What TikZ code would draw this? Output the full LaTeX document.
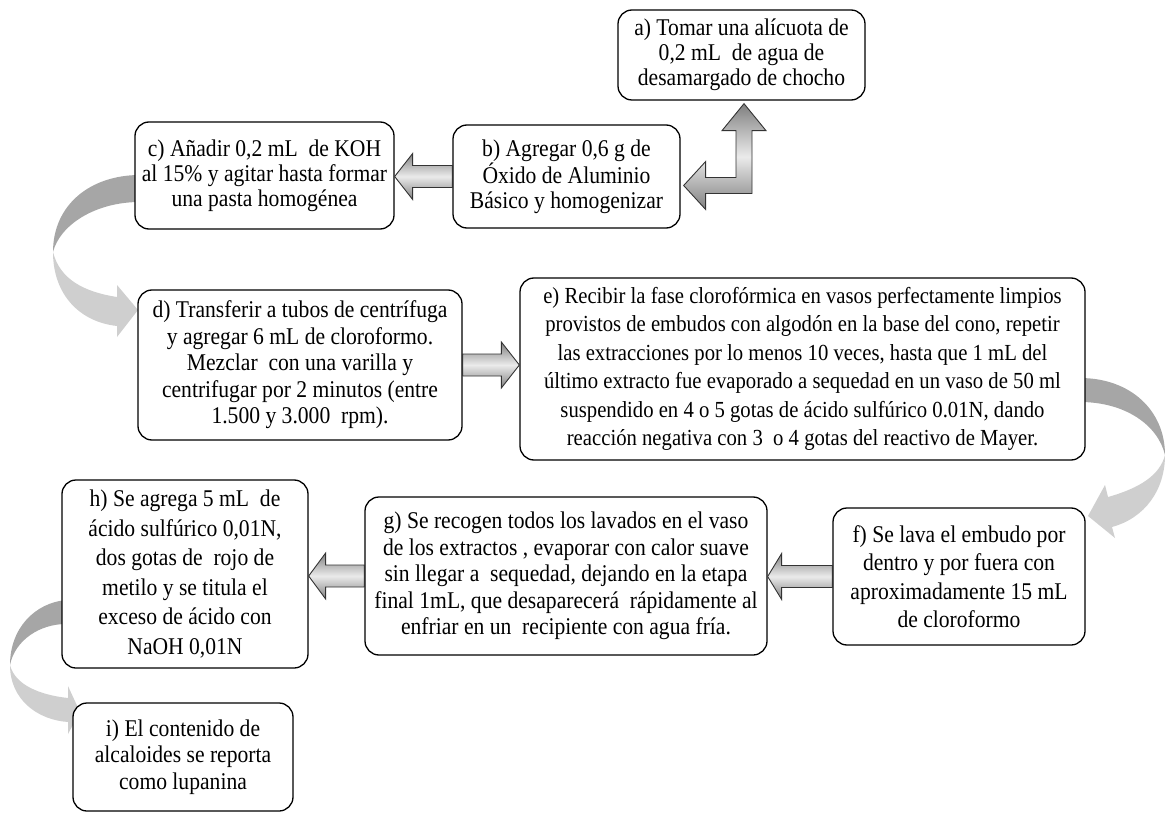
\documentclass[tikz,border=0pt]{standalone}
\usepackage{fontspec}
\setmainfont{Liberation Serif}[FakeStretch=0.9]
\usetikzlibrary{calc}
\definecolor{arrdark}{HTML}{A6A6A6}
\definecolor{arrlight}{HTML}{CFCFCF}
\tikzset{
  box/.style={draw=black, line width=1.3pt, rounded corners=14pt, fill=white,
    align=center, inner sep=0pt, font=\fontsize{24}{26.5}\selectfont},
  blockarr/.style={top color=black!50, bottom color=black!50, middle color=black!8,
    draw=black!80, line width=0.9pt},
  curvedark/.style={fill=arrdark, draw=none},
  curvelight/.style={fill=arrlight, draw=none}
}
\newcommand\blockarrow[3]{%
  \path[blockarr] let \p1=(#1), \p2=(#2) in
    (\x1,\y1+11pt) -- (\x2+#3,\y1+11pt) -- (\x2+#3,\y1+23pt) -- (\x2,\y1)
    -- (\x2+#3,\y1-23pt) -- (\x2+#3,\y1-11pt) -- (\x1,\y1-11pt) -- cycle;}
\begin{document}
\begin{tikzpicture}[x=1pt,y=-1pt]
\useasboundingbox (0,0) rectangle (1165,813);

% curved arrows (behind boxes)
\path[curvedark] (140,175) .. controls (90,175) and (53,205) .. (53,252)
  .. controls (60,225) and (95,202) .. (140,202) -- cycle;
\path[curvelight] (53,252) .. controls (53,295) and (80,322) .. (117,326)
  -- (117,337) -- (138,310) -- (117,285) -- (117,297)
  .. controls (85,292) and (60,280) .. (53,252) -- cycle;

\path[curvedark] (1080,378) .. controls (1130,378) and (1165,410) .. (1165,455)
  .. controls (1158,425) and (1125,402) .. (1080,402) -- cycle;
\path[curvelight] (1165,455) .. controls (1165,490) and (1145,518) .. (1112,527)
  -- (1115,538) -- (1088,516) -- (1105,485) -- (1108,497)
  .. controls (1140,488) and (1160,475) .. (1165,455) -- cycle;

\path[curvedark] (66,600) .. controls (35,603) and (10,628) .. (10,665)
  .. controls (15,640) and (40,624) .. (66,624) -- cycle;
\path[curvelight] (10,665) .. controls (10,700) and (38,720) .. (68,722)
  -- (68,734) -- (80,712) -- (68,686) -- (68,698)
  .. controls (40,695) and (15,685) .. (10,665) -- cycle;

% boxes
\node[box, minimum width=247pt, minimum height=90pt, font=\fontsize{24}{25}\selectfont] (a) at (741.5,55)
  {a) Tomar una alícuota de\\0,2 mL~ de agua de\\desamargado de chocho};
\node[box, minimum width=227pt, minimum height=103pt, font=\fontsize{24}{25}\selectfont] (b) at (566.5,176.5)
  {b) Agregar 0,6 g de\\Óxido de Aluminio\\Básico y homogenizar};
\node[box, minimum width=259pt, minimum height=107pt, font=\fontsize{24}{25}\selectfont] (c) at (264.5,175.5)
  {c) Añadir 0,2 mL~ de KOH\\al 15\% y agitar hasta formar\\una pasta homogénea};
\node[box, minimum width=324pt, minimum height=150pt] (d) at (300,365)
  {d) Transferir a tubos de centrífuga\\y agregar 6 mL de cloroformo.\\Mezclar~ con una varilla y\\centrifugar por 2 minutos (entre\\1.500 y 3.000~ rpm).};
\node[box, minimum width=565pt, minimum height=182pt, font=\fontsize{23}{28.5}\selectfont] (e) at (802.5,369)
  {e) Recibir la fase clorofórmica en vasos perfectamente limpios\\provistos de embudos con algodón en la base del cono, repetir\\las extracciones por lo menos 10 veces, hasta que 1 mL del\\último extracto fue evaporado a sequedad en un vaso de 50 ml\\suspendido en 4 o 5 gotas de ácido sulfúrico 0.01N, dando\\reacción negativa con 3~ o 4 gotas del reactivo de Mayer.};
\node[box, minimum width=252pt, minimum height=137pt, font=\fontsize{24}{28.5}\selectfont] (f) at (959,576.5)
  {f) Se lava el embudo por\\dentro y por fuera con\\aproximadamente 15 mL\\de cloroformo};
\node[box, minimum width=402pt, minimum height=158pt] (g) at (566,576)
  {g) Se recogen todos los lavados en el vaso\\de los extractos , evaporar con calor suave\\sin llegar a~ sequedad, dejando en la etapa\\final 1mL, que desaparecerá~ rápidamente al\\enfriar en un~ recipiente con agua fría.};
\node[box, minimum width=246pt, minimum height=188pt, font=\fontsize{24}{29.5}\selectfont] (h) at (185,574)
  {h) Se agrega 5 mL~ de\\ácido sulfúrico 0,01N,\\dos gotas de~ rojo de\\metilo y se titula el\\exceso de ácido con\\NaOH 0,01N};
\node[box, minimum width=220pt, minimum height=108pt] (i) at (183,757)
  {i) El contenido de\\alcaloides se reporta\\como lupanina};

% straight block arrows
\blockarrow{b.west}{c.east}{18pt}
\blockarrow{d.east}{e.west}{-18pt}
\blockarrow{f.west}{g.east}{14pt}
\blockarrow{g.west}{h.east}{17pt}

% bent arrow b -> a
\coordinate (t1) at ($(b.east)+(3,9)$);
\coordinate (t2) at ($(a.south)+(2.5,3)$);
\path[blockarr] let \p1=(t1), \p2=(t2) in
  (\x1,\y1) -- (\x1+22pt,\y1+24pt) -- (\x1+22pt,\y1+8pt) -- (\x2-8pt,\y1+8pt)
  -- (\x2-8pt,\y2-27pt) -- (\x2-22pt,\y2-27pt) -- (\x2,\y2) -- (\x2+22pt,\y2-27pt)
  -- (\x2+8pt,\y2-27pt) -- (\x2+8pt,\y1-8pt) -- (\x1+22pt,\y1-8pt)
  -- (\x1+22pt,\y1-24pt) -- cycle;
\end{tikzpicture}
\end{document}
